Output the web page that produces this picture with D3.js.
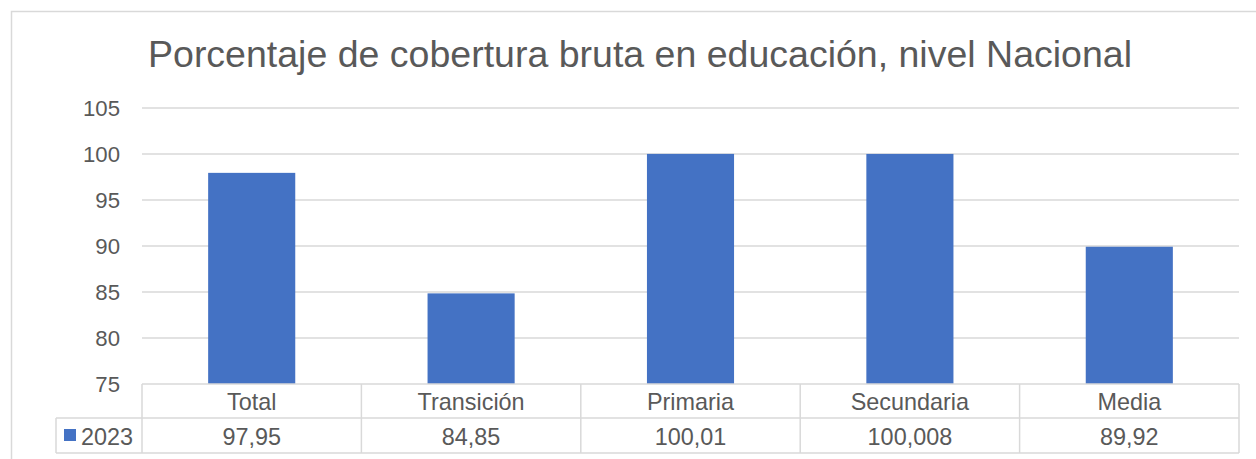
<!DOCTYPE html>
<html><head><meta charset="utf-8">
<script src="https://cdn.jsdelivr.net/npm/d3@7"></script>
<style>
body{margin:0;background:#fff;}
svg{display:block;font-family:"Liberation Sans",Arial,sans-serif;}
</style></head>
<body><svg id="c" width="1256" height="459"></svg>
<script>
const title = "Porcentaje de cobertura bruta en educación, nivel Nacional";
const categories = ["Total","Transición","Primaria","Secundaria","Media"];
const seriesName = "2023";
const values = [97.95, 84.85, 100.01, 100.008, 89.92];
const valueLabels = ["97,95","84,85","100,01","100,008","89,92"];
const yTicks = [75,80,85,90,95,100,105];

const svg = d3.select("#c");
const textColor = "#595959", gridColor = "#d9d9d9", barColor = "#4472C4";
const L = 142, R = 1239, T = 108, B = 384;
const tfs = 23.4;

// outer chart border
svg.append("path").attr("d","M11.5,470 V11.5 H1270").attr("fill","none").attr("stroke",gridColor).attr("stroke-width",1.5);

svg.append("text").attr("x",640).attr("y",67).attr("text-anchor","middle")
  .attr("font-size",37.5).attr("fill",textColor).text(title);

const x = d3.scaleBand().domain(categories).range([L,R]).paddingInner(0).paddingOuter(0);
const y = d3.scaleLinear().domain([75,105]).range([B,T]);

// gridlines
svg.append("g").selectAll("line").data(yTicks.filter(d=>d>75)).join("line")
  .attr("x1",L).attr("x2",R).attr("y1",d=>y(d)).attr("y2",d=>y(d))
  .attr("stroke",gridColor).attr("stroke-width",1.5);

// y axis
const yAxis = d3.axisLeft(y).tickValues(yTicks).tickSize(0).tickPadding(22);
const gy = svg.append("g").attr("transform",`translate(${L},0)`).call(yAxis);
gy.select(".domain").remove();
gy.selectAll("text").attr("font-size",22.2).attr("fill",textColor).attr("font-family","Liberation Sans, Arial, sans-serif");

// bars
const bw = x.bandwidth()*0.397;
svg.append("g").selectAll("rect").data(values).join("rect")
  .attr("x",(d,i)=>x(categories[i])+x.bandwidth()/2-bw/2)
  .attr("width",bw)
  .attr("y",d=>y(Math.min(d,105)))
  .attr("height",d=>B-y(Math.min(d,105)))
  .attr("fill",barColor);

// data table
const r1 = 384, r2 = 418, r3 = 453, legL = 56;
const tg = svg.append("g").attr("stroke",gridColor).attr("stroke-width",1.5).attr("fill","none");
tg.append("line").attr("x1",L).attr("x2",R).attr("y1",r1).attr("y2",r1);
tg.append("line").attr("x1",legL).attr("x2",R).attr("y1",r2).attr("y2",r2);
tg.append("line").attr("x1",legL).attr("x2",R).attr("y1",r3).attr("y2",r3);
tg.append("line").attr("x1",legL).attr("x2",legL).attr("y1",r2).attr("y2",r3);
const colEdges = categories.map(c=>x(c)).concat([R]);
tg.selectAll("line.v").data(colEdges).join("line").attr("class","v")
  .attr("x1",d=>d).attr("x2",d=>d).attr("y1",r1).attr("y2",r3);

svg.append("g").selectAll("text").data(categories).join("text")
  .attr("x",d=>x(d)+x.bandwidth()/2).attr("y",409.5).attr("text-anchor","middle")
  .attr("font-size",tfs).attr("fill",textColor).text(d=>d);
svg.append("g").selectAll("text").data(valueLabels).join("text")
  .attr("x",(d,i)=>x(categories[i])+x.bandwidth()/2).attr("y",444.5).attr("text-anchor","middle")
  .attr("font-size",tfs).attr("fill",textColor).text(d=>d);

svg.append("rect").attr("x",64).attr("y",429).attr("width",12).attr("height",12).attr("fill",barColor);
svg.append("text").attr("x",81).attr("y",444.5).attr("font-size",tfs).attr("fill",textColor).text(seriesName);
</script></body></html>
